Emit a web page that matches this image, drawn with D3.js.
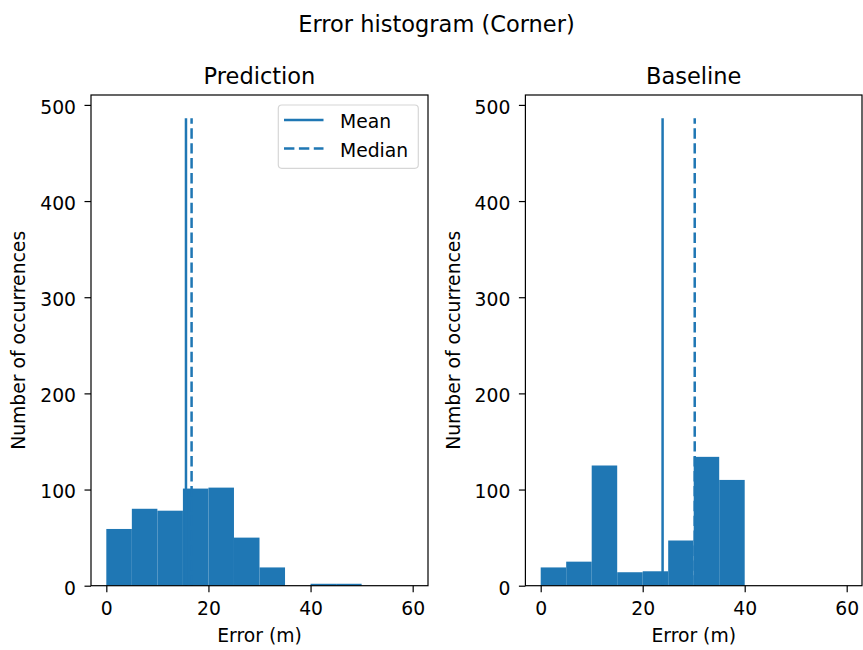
<!DOCTYPE html>
<html>
<head>
<meta charset="utf-8">
<script src="https://cdn.jsdelivr.net/npm/d3@7"></script>
<style>
  html, body { margin: 0; padding: 0; background: #ffffff; }
  svg { display: block; font-family: "DejaVu Sans", sans-serif; }
</style>
</head>
<body>
<svg id="chart" width="863" height="650"></svg>
<script>
// Histogram bins (5 m wide, 0 to 60 m) and their counts
const binEdges = [0, 5, 10, 15, 20, 25, 30, 35, 40, 45, 50, 55, 60];
const predictionCounts = [59, 80, 78, 101, 102, 50, 19, 0, 2, 2, 0, 0];
const baselineCounts   = [19, 25, 125, 14, 15, 47, 134, 110, 0, 0, 0, 0];

// Summary statistics drawn as vertical lines
const predictionStats = { mean: 15.6, median: 16.7 };
const baselineStats   = { mean: 23.9, median: 30.2 };
const statLineTop = 486;

const xTicks = [0, 20, 40, 60];
const yTicks = [0, 100, 200, 300, 400, 500];

const figureTitle = "Error histogram (Corner)";
const panelTitles = ["Prediction", "Baseline"];
const xLabel = "Error (m)";
const yLabel = "Number of occurrences";
const legendLabels = ["Mean", "Median"];

const blue = "#1f77b4";
const fontSize = 18.75;
const titleSize = 22.5;
const dashPattern = "10.4,4.5";

const svg = d3.select("#chart");

svg.append("text")
  .attr("x", 436.5).attr("y", 31.5)
  .attr("text-anchor", "middle")
  .attr("font-size", titleSize)
  .attr("fill", "#000")
  .text(figureTitle);

const panels = [
  { left: 91, right: 428, counts: predictionCounts, stats: predictionStats, title: panelTitles[0], legend: true },
  { left: 525.4, right: 862, counts: baselineCounts, stats: baselineStats, title: panelTitles[1], legend: false }
];
const plotTop = 95, plotBottom = 585.7;

panels.forEach(p => {
  const x = d3.scaleLinear().domain([-3, 63]).range([p.left, p.right]);
  const y = d3.scaleLinear().domain([0, statLineTop * 1.05]).range([plotBottom, plotTop]);
  const g = svg.append("g");

  // bars
  g.selectAll("rect.bar")
    .data(p.counts.map((c, i) => ({ x0: binEdges[i], x1: binEdges[i + 1], c })))
    .join("rect")
    .attr("class", "bar")
    .attr("x", d => x(d.x0))
    .attr("width", d => x(d.x1) - x(d.x0))
    .attr("y", d => y(d.c))
    .attr("height", d => y(0) - y(d.c))
    .attr("fill", blue);

  // mean (solid) and median (dashed) lines, drawn bottom to top
  g.append("line")
    .attr("x1", x(p.stats.mean)).attr("x2", x(p.stats.mean))
    .attr("y1", y(0)).attr("y2", y(statLineTop))
    .attr("stroke", blue).attr("stroke-width", 2.5);
  g.append("line")
    .attr("x1", x(p.stats.median)).attr("x2", x(p.stats.median))
    .attr("y1", y(0)).attr("y2", y(statLineTop))
    .attr("stroke", blue).attr("stroke-width", 2.5)
    .attr("stroke-dasharray", dashPattern);

  // axes
  const xAxis = g.append("g")
    .attr("transform", `translate(0,${plotBottom})`)
    .call(d3.axisBottom(x).tickValues(xTicks).tickFormat(d3.format("d"))
      .tickSize(6.5).tickSizeOuter(0).tickPadding(9.5));
  const yAxis = g.append("g")
    .attr("transform", `translate(${p.left},0)`)
    .call(d3.axisLeft(y).tickValues(yTicks).tickFormat(d3.format("d"))
      .tickSize(6.5).tickSizeOuter(0).tickPadding(8.5));
  [xAxis, yAxis].forEach(a => {
    a.select(".domain").remove();
    a.selectAll("line").attr("stroke", "#000").attr("stroke-width", 1.2);
    a.selectAll("text").attr("font-size", fontSize).attr("fill", "#000")
      .attr("font-family", "DejaVu Sans, sans-serif");
  });
  yAxis.selectAll("text").attr("dy", "0.45em");

  // frame
  g.append("rect")
    .attr("x", p.left).attr("y", plotTop)
    .attr("width", p.right - p.left).attr("height", plotBottom - plotTop)
    .attr("fill", "none").attr("stroke", "#000").attr("stroke-width", 1.2);

  // titles and labels
  const cx = (p.left + p.right) / 2;
  g.append("text")
    .attr("x", cx).attr("y", 84.3)
    .attr("text-anchor", "middle").attr("font-size", titleSize).attr("fill", "#000")
    .text(p.title);
  g.append("text")
    .attr("x", cx).attr("y", 641.5)
    .attr("text-anchor", "middle").attr("font-size", fontSize).attr("fill", "#000")
    .text(xLabel);
  const ly = (plotTop + plotBottom) / 2;
  const lx = p.left - 65.6;
  g.append("text")
    .attr("transform", `translate(${lx},${ly}) rotate(-90)`)
    .attr("text-anchor", "middle").attr("font-size", fontSize).attr("fill", "#000")
    .text(yLabel);

  if (p.legend) {
    const lg = g.append("g");
    lg.append("rect")
      .attr("x", 278.3).attr("y", 105).attr("width", 140).attr("height", 63.3)
      .attr("rx", 3.5).attr("ry", 3.5)
      .attr("fill", "rgba(255,255,255,0.8)").attr("stroke", "#d6d6d6").attr("stroke-width", 1.2);
    legendLabels.forEach((lab, i) => {
      const yy = 120 + i * 28.4;
      const ln = lg.append("line")
        .attr("x1", 284).attr("x2", 323.5).attr("y1", yy).attr("y2", yy)
        .attr("stroke", blue).attr("stroke-width", 2.5);
      if (i === 1) ln.attr("stroke-dasharray", dashPattern);
      lg.append("text")
        .attr("x", 340).attr("y", yy + 8.4)
        .attr("font-size", fontSize).attr("fill", "#000")
        .text(lab);
    });
  }
});
</script>
</body>
</html>
